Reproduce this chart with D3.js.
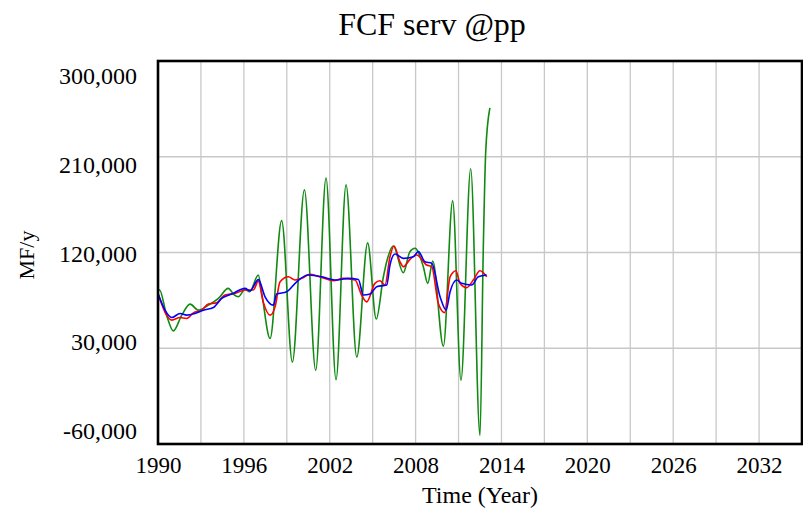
<!DOCTYPE html>
<html>
<head>
<meta charset="utf-8">
<script src="https://cdn.jsdelivr.net/npm/d3@7"></script>
<style>
  body { margin: 0; background: #fff; }
  text { font-family: "Liberation Serif", "Times New Roman", serif; fill: #000; }
</style>
</head>
<body>
<svg id="chart" width="803" height="508"></svg>
<script>
// values, [year, MF/y]
var greenSeries = [
  [1990.0, 83100], [1990.1, 85000], [1990.6, 61100], [1991.07, 46300], [1991.66, 61100],
  [1992.24, 71500], [1992.82, 65800], [1993.52, 70500], [1994.22, 76800], [1994.91, 86300],
  [1995.3, 80500], [1995.61, 78400], [1996.08, 85300], [1996.4, 83100], [1997.01, 98800],
  [1997.25, 81500], [1997.83, 39150], [1998.64, 150000], [1999.39, 17100], [2000.23, 178900],
  [2001.02, 9270], [2001.74, 189900], [2002.44, 500], [2003.14, 183600], [2003.89, 21800],
  [2004.65, 129000], [2005.25, 57500], [2005.75, 97200], [2005.98, 111300], [2006.44, 126100],
  [2007.14, 101000], [2007.6, 120800], [2007.96, 124000], [2008.54, 106600], [2008.85, 91000],
  [2009.2, 112000], [2009.94, 32000], [2010.59, 168500], [2011.17, 0], [2011.85, 198700],
  [2012.5, -52000], [2012.73, 124000], [2012.9, 215000], [2013.19, 255900]
];

var redSeries = [
  [1990.0, 81500], [1990.6, 61100], [1990.96, 56400], [1991.54, 58900], [1992.0, 58000],
  [1992.47, 63300], [1993.05, 65800], [1993.52, 71500], [1994.1, 72700], [1994.68, 80000],
  [1995.38, 81500], [1996.08, 84700], [1996.66, 84700], [1997.01, 93000], [1997.35, 73600],
  [1997.83, 61100], [1998.18, 68900], [1998.53, 92500], [1999.11, 97200], [1999.57, 94100],
  [2000.04, 95700], [2000.62, 99500], [2001.44, 96600], [2002.25, 93400], [2002.95, 95700],
  [2003.77, 94100], [2004.23, 80000], [2004.58, 73600], [2005.16, 91000], [2005.51, 93400],
  [2005.86, 89400], [2006.21, 116000], [2006.49, 126100], [2006.91, 111300], [2007.14, 106600],
  [2007.61, 113600], [2008.08, 117600], [2008.77, 108200], [2009.13, 106600], [2009.59, 72100],
  [2010.03, 63500], [2010.41, 97200], [2010.82, 102900], [2011.1, 91000], [2011.57, 86900],
  [2012.03, 94100], [2012.5, 102900], [2012.97, 97200]
];

var blueSeries = [
  [1990.0, 81500], [1990.49, 65800], [1990.96, 58900], [1991.54, 62700], [1992.0, 61100],
  [1992.59, 62700], [1993.17, 65800], [1993.87, 68300], [1994.45, 76800], [1995.15, 80900],
  [1996.08, 86300], [1996.43, 84000], [1997.01, 94500], [1997.48, 78400], [1998.06, 70500],
  [1998.29, 80900], [1998.99, 83100], [1999.69, 92500], [2000.5, 98800], [2001.44, 97200],
  [2002.37, 94100], [2003.3, 95700], [2004.0, 94700], [2004.35, 80000], [2004.82, 80900],
  [2005.28, 87800], [2005.98, 89400], [2006.21, 108200], [2006.56, 118600], [2007.14, 114500],
  [2007.84, 116000], [2008.19, 120800], [2008.66, 111300], [2009.13, 109800], [2009.71, 78400],
  [2010.13, 66000], [2010.41, 83100], [2010.88, 94100], [2011.22, 91000], [2011.92, 89400],
  [2012.38, 97200], [2012.97, 98800]
];

var xTicks = [1990, 1996, 2002, 2008, 2014, 2020, 2026, 2032];
var xGrid = [1993, 1996, 1999, 2002, 2005, 2008, 2011, 2014, 2017, 2020, 2023, 2026, 2029, 2032];
var yTicks = [-60000, 30000, 120000, 210000, 300000];
var yGrid = [30000, 120000, 210000];

var svg = d3.select("#chart");
var margin = { left: 158, right: 1, top: 61, bottom: 64 };
var width = 803 - margin.left - margin.right;
var height = 508 - margin.top - margin.bottom;

var x = d3.scaleLinear().domain([1990, 2035]).range([0, width]);
var y = d3.scaleLinear().domain([-60000, 300000]).range([height, 0]);
// the labels are spread a bit inside the frame, like Vensim does
var yLab = d3.scaleLinear().domain([-60000, 300000]).range([height - 13, 15]);

var g = svg.append("g").attr("transform", "translate(" + margin.left + "," + margin.top + ")");

// grid
g.selectAll(".vgrid").data(xGrid).enter().append("line")
  .attr("class", "vgrid")
  .attr("x1", function(d) { return x(d); }).attr("x2", function(d) { return x(d); })
  .attr("y1", 0).attr("y2", height)
  .attr("stroke", "#c8c8c8").attr("stroke-width", 1.3);

g.selectAll(".hgrid").data(yGrid).enter().append("line")
  .attr("class", "hgrid")
  .attr("x1", 0).attr("x2", width)
  .attr("y1", function(d) { return y(d); }).attr("y2", function(d) { return y(d); })
  .attr("stroke", "#c8c8c8").attr("stroke-width", 1.3);

// axes, text only
var fmt = function(d) { return d3.format(",")(d).replace("\u2212", "-"); };
var xAxis = g.append("g").attr("transform", "translate(0," + height + ")")
  .call(d3.axisBottom(x).tickValues(xTicks).tickFormat(d3.format("d")).tickSize(0).tickPadding(13));
var yAxis = g.append("g")
  .call(d3.axisLeft(yLab).tickValues(yTicks).tickFormat(fmt).tickSize(0).tickPadding(21));
[xAxis, yAxis].forEach(function(a) {
  a.select(".domain").remove();
  a.selectAll("text").style("font-family", "Liberation Serif").style("font-size", "23px").attr("fill", "#000");
});
yAxis.selectAll("text").style("font-size", "24px");

// lines
var line = d3.line()
  .x(function(d) { return x(d[0]); })
  .y(function(d) { return y(d[1]); })
  .curve(d3.curveMonotoneX);

var series = [
  { data: greenSeries, color: "#108a10" },
  { data: redSeries, color: "#ff0000" },
  { data: blueSeries, color: "#0000ff" }
];
series.forEach(function(s) {
  g.append("path")
    .datum(s.data)
    .attr("d", line)
    .attr("fill", "none")
    .attr("stroke", s.color)
    .attr("stroke-width", 1.6);
});

// frame
g.append("rect")
  .attr("x", 0).attr("y", 0).attr("width", width).attr("height", height)
  .attr("fill", "none").attr("stroke", "#000").attr("stroke-width", 2.6);

// titles
svg.append("text")
  .attr("x", 432).attr("y", 35)
  .attr("text-anchor", "middle")
  .style("font-size", "32px")
  .text("FCF serv @pp");

svg.append("text")
  .attr("x", margin.left + width / 2).attr("y", 503)
  .attr("text-anchor", "middle")
  .style("font-size", "24px")
  .text("Time (Year)");

svg.append("text")
  .attr("transform", "translate(34,255) rotate(-90)")
  .attr("text-anchor", "middle")
  .style("font-size", "22px")
  .text("MF/y");
</script>
</body>
</html>
